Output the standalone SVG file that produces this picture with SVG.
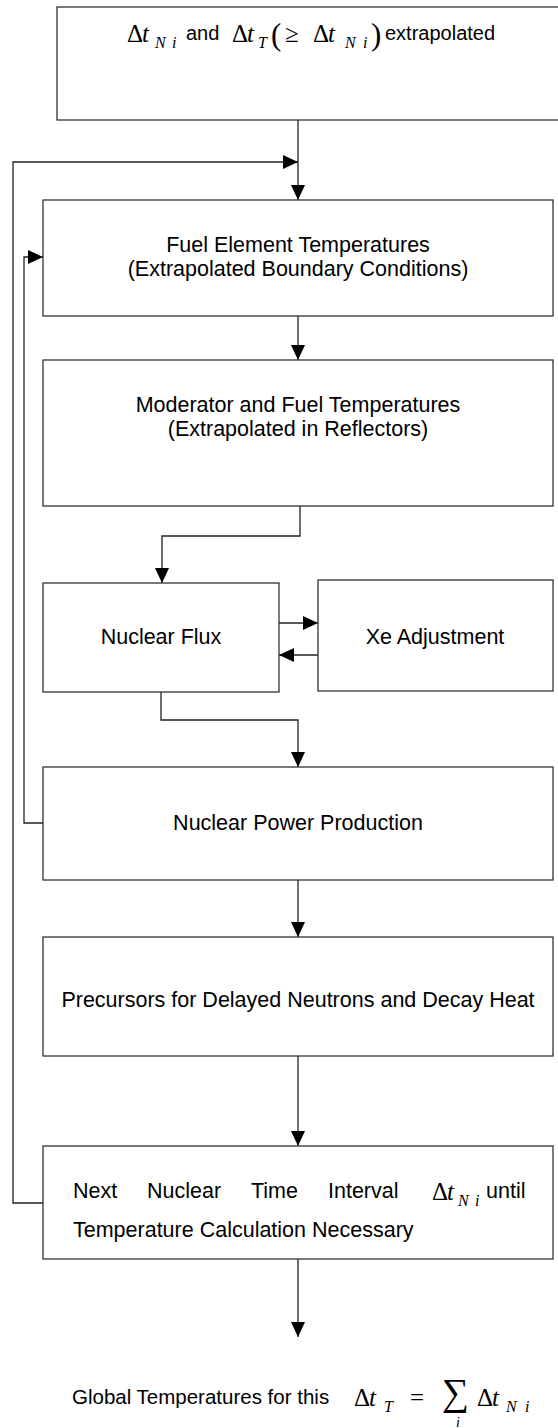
<svg xmlns="http://www.w3.org/2000/svg" width="558" height="1428" viewBox="0 0 558 1428">
<defs>
<marker id="ah" markerWidth="15" markerHeight="14" refX="15" refY="7" orient="auto" markerUnits="userSpaceOnUse"><path d="M0,0 L15,7 L0,14 Z" fill="#000"/></marker>
</defs>
<style>
.box{fill:#fff;stroke:#333;stroke-width:1.3}
.ln{fill:none;stroke:#222;stroke-width:1.3}
.t{font-family:"Liberation Sans",Arial,sans-serif;font-size:21.5px;fill:#000}
.tt{font-family:"Liberation Sans",Arial,sans-serif;font-size:20px;fill:#000}
.c{text-anchor:middle}
.m{font-family:"Liberation Serif","Times New Roman",serif;font-size:25px;fill:#000}
.s{font-family:"Liberation Serif","Times New Roman",serif;font-size:16px;font-style:italic;fill:#000}
.i{font-style:italic}
</style>
<g id="connectors">
<path class="ln" d="M298,120 V200" marker-end="url(#ah)"/>
<path class="ln" d="M43,1203 H13 V162 H298" marker-end="url(#ah)"/>
<path class="ln" d="M43,823 H24 V257 H43" marker-end="url(#ah)"/>
<path class="ln" d="M298,316 V360" marker-end="url(#ah)"/>
<path class="ln" d="M300,506 V536 H162 V583" marker-end="url(#ah)"/>
<path class="ln" d="M279,623 H318" marker-end="url(#ah)"/>
<path class="ln" d="M318,655 H279" marker-end="url(#ah)"/>
<path class="ln" d="M161,692 V720 H298 V767" marker-end="url(#ah)"/>
<path class="ln" d="M298,880 V937" marker-end="url(#ah)"/>
<path class="ln" d="M298,1056 V1146" marker-end="url(#ah)"/>
<path class="ln" d="M298,1259 V1337" marker-end="url(#ah)"/>
</g>
<g id="n-start">
<rect class="box" x="57" y="7" width="503" height="113"/>
<text class="m" x="127" y="42">Δ</text><text class="m i" x="142" y="42">t</text>
<text class="s" x="155" y="48">N</text><text class="s" x="172" y="48">i</text>
<text class="tt" x="186" y="40">and</text>
<text class="m" x="232" y="42">Δ</text><text class="m i" x="247" y="42">t</text>
<text class="s" x="258" y="48">T</text>
<text class="m" x="271" y="45" style="font-size:31px">(</text>
<text class="m" x="285" y="42">≥</text>
<text class="m" x="313" y="42">Δ</text><text class="m i" x="328" y="42">t</text>
<text class="s" x="345" y="48">N</text><text class="s" x="363" y="48">i</text>
<text class="m" x="371" y="45" style="font-size:31px">)</text>
<text class="tt" x="385" y="40">extrapolated</text>
</g>
<g id="n-fuel">
<rect class="box" x="43" y="200" width="510" height="116"/>
<text class="t c" x="298" y="252">Fuel Element Temperatures</text>
<text class="t c" x="298" y="276">(Extrapolated Boundary Conditions)</text>
</g>
<g id="n-moderator">
<rect class="box" x="43" y="360" width="510" height="146"/>
<text class="t c" x="298" y="412">Moderator and Fuel Temperatures</text>
<text class="t c" x="298" y="436">(Extrapolated in Reflectors)</text>
</g>
<g id="n-flux">
<rect class="box" x="43" y="583" width="236" height="109"/>
<text class="t c" x="161" y="644">Nuclear Flux</text>
</g>
<g id="n-xe">
<rect class="box" x="318" y="580" width="235" height="111"/>
<text class="t c" x="435" y="644">Xe Adjustment</text>
</g>
<g id="n-power">
<rect class="box" x="43" y="767" width="510" height="113"/>
<text class="t c" x="298" y="830">Nuclear Power Production</text>
</g>
<g id="n-precursors">
<rect class="box" x="43" y="937" width="510" height="119"/>
<text class="t c" x="298" y="1007">Precursors for Delayed Neutrons and Decay Heat</text>
</g>
<g id="n-next">
<rect class="box" x="43" y="1146" width="510" height="113"/>
<text class="t" x="73" y="1198">Next</text>
<text class="t" x="147" y="1198">Nuclear</text>
<text class="t" x="251" y="1198">Time</text>
<text class="t" x="328" y="1198">Interval</text>
<text class="m" x="432" y="1200">Δ</text><text class="m i" x="447" y="1200">t</text>
<text class="s" x="458" y="1206">N</text><text class="s" x="475" y="1206">i</text>
<text class="t" x="486" y="1198">until</text>
<text class="t" x="73" y="1237">Temperature Calculation Necessary</text>
</g>
<g id="n-global">
<text class="t" x="72" y="1404" style="font-size:20.5px">Global Temperatures for this</text>
<text class="m" x="354" y="1406">Δ</text><text class="m i" x="369" y="1406">t</text>
<text class="s" x="384" y="1412">T</text>
<text class="m" x="410" y="1406">=</text>
<text class="m" x="442" y="1405" style="font-size:38px">∑</text>
<text class="s" x="456" y="1427" style="font-size:14px">i</text>
<text class="m" x="477" y="1406">Δ</text><text class="m i" x="492" y="1406">t</text>
<text class="s" x="506" y="1412">N</text><text class="s" x="525" y="1412">i</text>
</g>
</svg>
